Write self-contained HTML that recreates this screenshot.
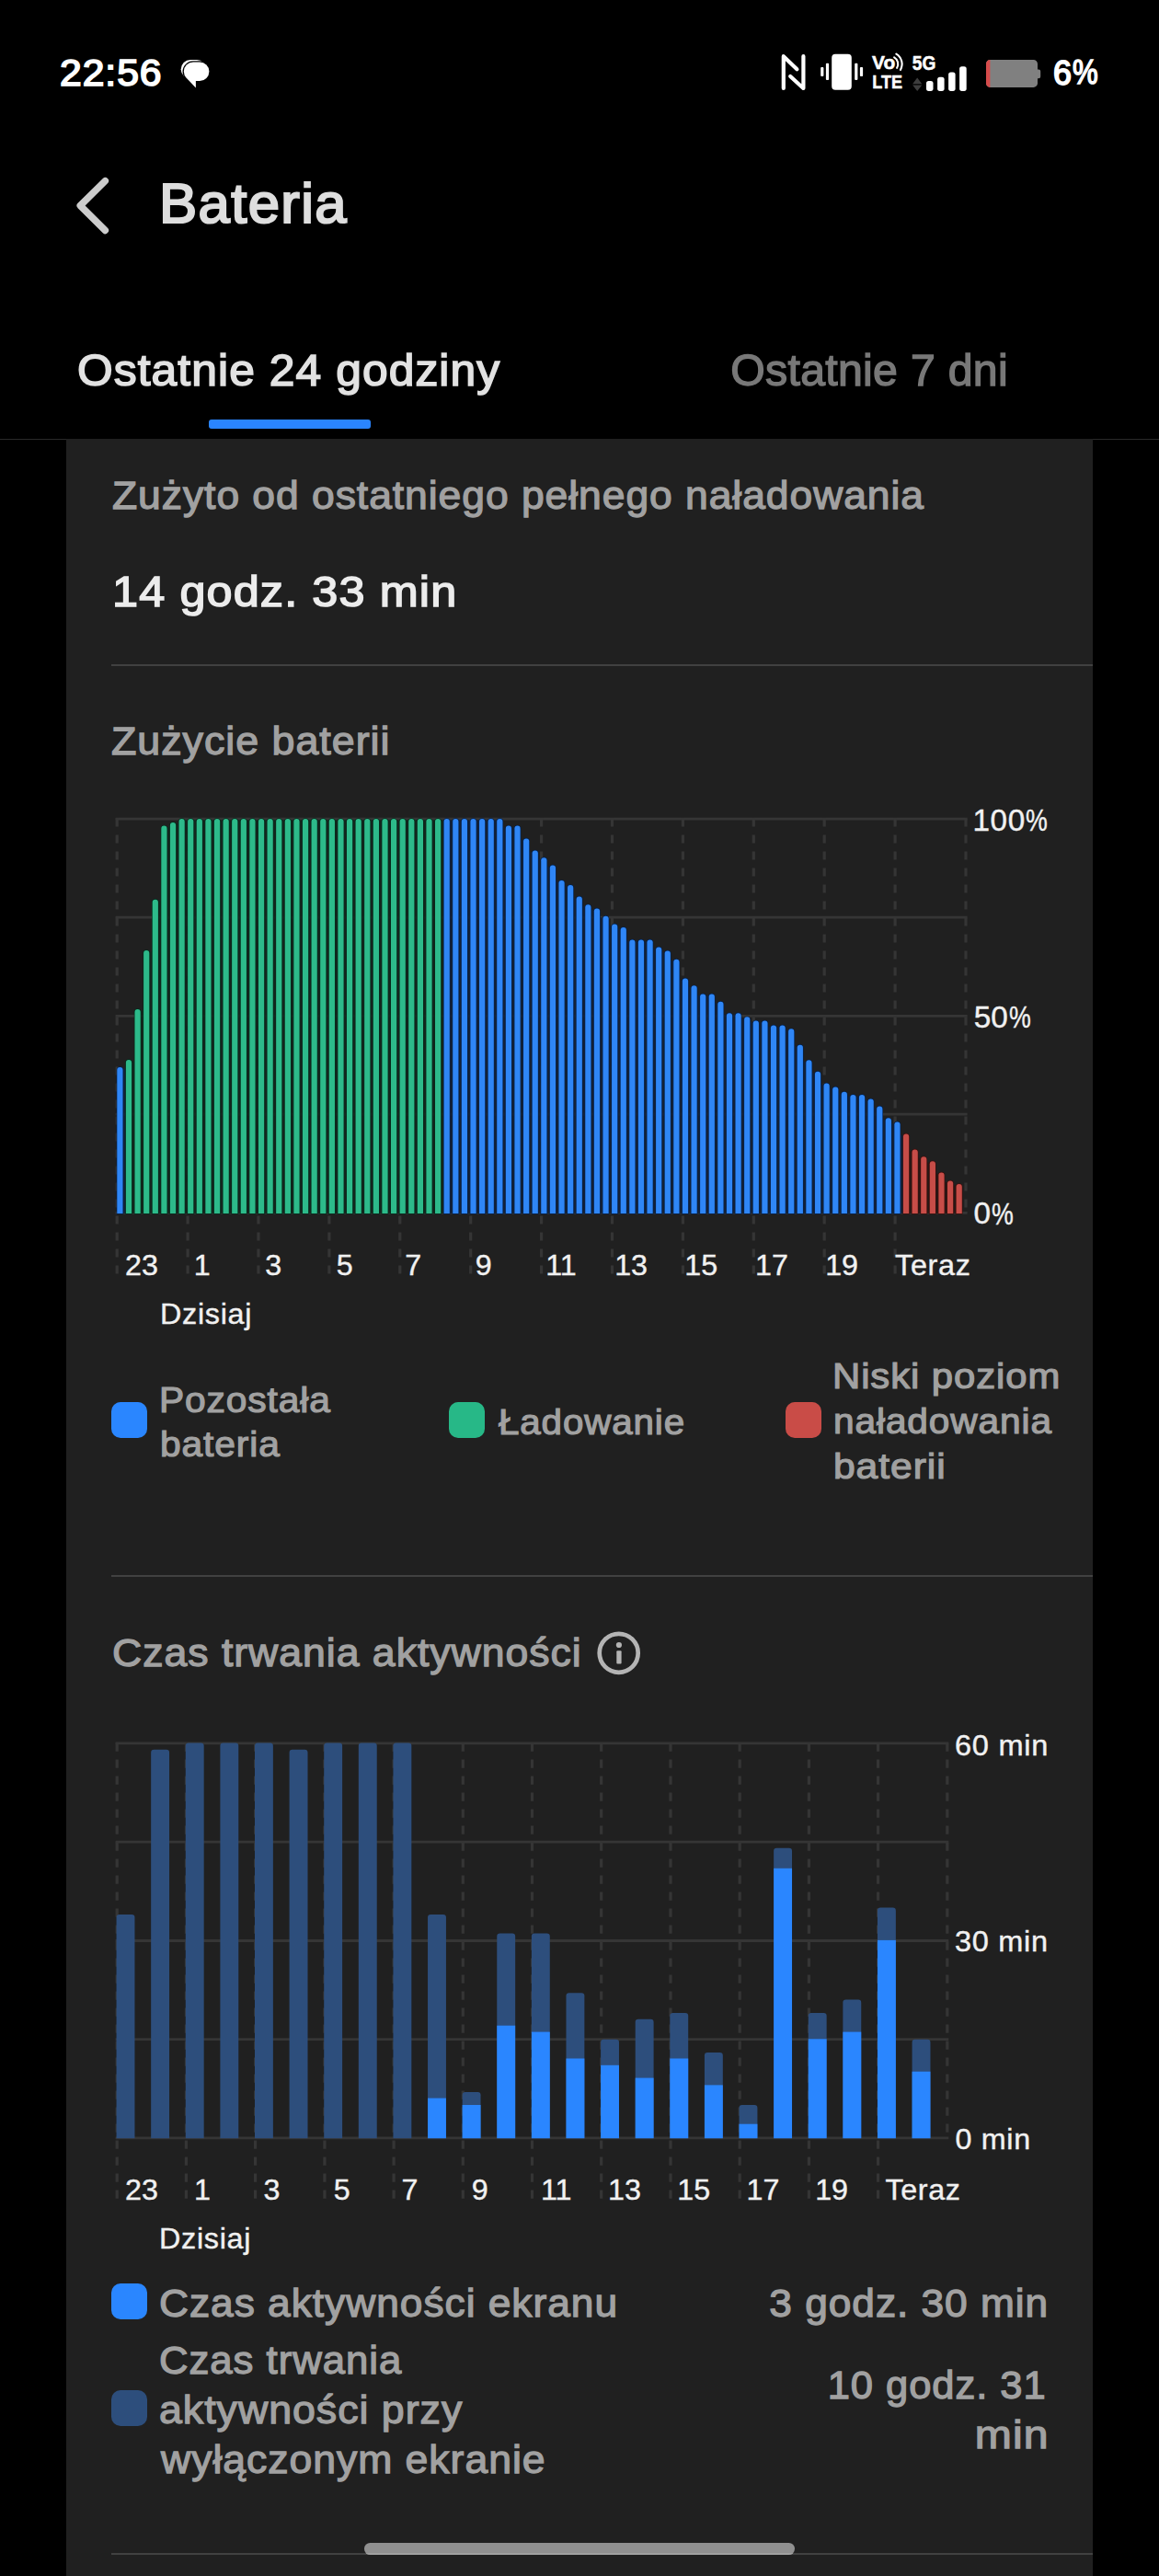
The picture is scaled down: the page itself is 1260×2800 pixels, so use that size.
<!DOCTYPE html>
<html lang="pl"><head><meta charset="utf-8"><title>Bateria</title>
<style>
html,body{margin:0;padding:0;background:#000;}
body{width:1260px;height:2800px;position:relative;overflow:hidden;font-family:"Liberation Sans", sans-serif;}
.t{position:absolute;white-space:nowrap;margin:0;padding:0;line-height:1;}
h1,header,nav,section{margin:0;padding:0;font:inherit;display:block;}
.abs{position:absolute;}
#card{position:absolute;left:72px;top:477px;width:1116px;height:2323px;background:#202020;}
.hr{position:absolute;height:2px;background:#414141;left:121px;width:1067px;}
.sq{position:absolute;width:39px;height:39.5px;border-radius:10px;}
svg{position:absolute;left:0;top:0;overflow:visible;}
</style></head><body>
<div class="abs" style="left:0;top:477px;width:1260px;height:1px;background:#2a2a2a"></div>
<div id="card"></div>
<div class="abs" style="left:227.2px;top:455.9px;width:175.7px;height:10px;border-radius:3px;background:#2a85ff"></div>
<div class="hr" style="top:722px"></div>
<div class="hr" style="top:1712px"></div>
<div class="hr" style="top:2775px"></div>
<div class="sq" style="left:121px;top:1523.7px;background:#2a86ff"></div>
<div class="sq" style="left:488.4px;top:1523.7px;background:#27b887"></div>
<div class="sq" style="left:854px;top:1523.7px;background:#c94c47"></div>
<div class="sq" style="left:121px;top:2481.7px;background:#2a86ff"></div>
<div class="sq" style="left:121px;top:2597.7px;background:#2d4e7c"></div>
<div class="abs" style="left:395.7px;top:2764.2px;width:468px;height:12.8px;border-radius:6.4px;background:rgba(255,255,255,0.5)"></div>
<svg width="1260" height="2800" viewBox="0 0 1260 2800">
<!-- chat bubble -->
<rect x="196.7" y="65" width="27.6" height="20.6" rx="10.3" fill="#fff"/>
<g fill="#000" stroke="#000" stroke-width="2.6" stroke-linejoin="round">
<rect x="199.8" y="67.6" width="27.6" height="20.5" rx="10.25"/>
<path d="M203.4 85.4 L212.9 95.3 V87.2 Z"/>
</g>
<g fill="#fff">
<rect x="199.8" y="67.6" width="27.6" height="20.5" rx="10.25"/>
<path d="M203.2 85.2 L212.9 95.4 V87.2 Z"/>
</g>
<!-- NFC -->
<g fill="none" stroke="#fff" stroke-width="4.2" stroke-linecap="round" stroke-linejoin="round">
<path d="M851.8 96 V61.2 L866.4 75.2"/>
<path d="M873.4 61.2 V96 L859.2 83"/>
</g>
<!-- vibrate -->
<g fill="#fff">
<rect x="904.2" y="58.7" width="21.6" height="39.1" rx="4"/>
<rect x="897.9" y="68.7" width="3.2" height="18.4" rx="1"/>
<rect x="892.2" y="73.1" width="3.2" height="9.9" rx="1"/>
<rect x="929.2" y="68.7" width="3.2" height="18.4" rx="1"/>
<rect x="934.9" y="73.1" width="3.2" height="9.9" rx="1"/>
</g>
<!-- VoLTE -->
<g fill="#fff" stroke="#fff" stroke-width="0.5" font-family="'Liberation Sans', sans-serif" font-weight="700">
<text x="948" y="74.7" font-size="20.6" textLength="25.2" lengthAdjust="spacingAndGlyphs">Vo</text>
<text x="948.2" y="96.1" font-size="20.8" textLength="32.8" lengthAdjust="spacingAndGlyphs">LTE</text>
<text x="991.8" y="75.5" font-size="22" textLength="25.6" lengthAdjust="spacingAndGlyphs">5G</text>
</g>
<g fill="none" stroke="#fff" stroke-width="2.1" stroke-linecap="round">
<path d="M972.1 62.4 A8.3 8.3 0 0 1 975.1 73.8"/>
<path d="M974.3 58.7 A12.6 12.6 0 0 1 978.9 75.9"/>
</g>
<!-- data arrows -->
<path d="M997.2 84.5 L1002.3 91.2 H992.1 Z M992.1 92.5 H1002.3 L997.2 99 Z" fill="#3d3d3d"/>
<!-- signal -->
<g fill="#fff">
<rect x="1007" y="87.9" width="7.5" height="11" rx="2.6"/>
<rect x="1019.1" y="83.7" width="7.5" height="15.2" rx="2.6"/>
<rect x="1031.1" y="78.5" width="7.5" height="20.4" rx="2.6"/>
<rect x="1043.1" y="72.2" width="7.6" height="26.7" rx="2.6"/>
</g>
<!-- battery -->
<path d="M1076.5 65 H1123.5 a4.5 4.5 0 0 1 4.5 4.5 V75.4 h1.2 a2 2 0 0 1 2 2 v5.8 a2 2 0 0 1 -2 2 H1128 V90.4 a4.5 4.5 0 0 1 -4.5 4.5 H1076.5 a4.5 4.5 0 0 1 -4.5 -4.5 V69.5 a4.5 4.5 0 0 1 4.5 -4.5 Z" fill="#808080"/>
<path d="M1076.4 65 a4.5 4.5 0 0 0 -4.4 4.5 V90.4 a4.5 4.5 0 0 0 4.4 4.5 Z" fill="#d64b4b"/>
<!-- back chevron -->
<path d="M114.4 196.6 L87.2 223.5 L114.4 250.5" fill="none" stroke="#cccccc" stroke-width="7.4" stroke-linecap="round" stroke-linejoin="round"/>
<!-- info -->
<g>
<circle cx="672.7" cy="1796.8" r="21" fill="none" stroke="#b4b4b4" stroke-width="4.7"/>
<circle cx="672.9" cy="1788" r="3.1" fill="#b4b4b4"/>
<rect x="670.3" y="1794.2" width="5.3" height="14.3" rx="1" fill="#b4b4b4"/>
</g>

<g stroke="#353535" stroke-width="2.8" fill="none">
<line x1="125.6" x2="1051.6" y1="890.1" y2="890.1"/>
<line x1="125.6" x2="1051.6" y1="997.2" y2="997.2"/>
<line x1="125.6" x2="1051.6" y1="1104.3" y2="1104.3"/>
<line x1="125.6" x2="1051.6" y1="1211.2" y2="1211.2"/>
<line x1="125.6" x2="1051.6" y1="1318.3" y2="1318.3"/>
</g>
<g stroke="#353535" stroke-width="3.2" stroke-dasharray="9 9" fill="none">
<line x1="127.2" x2="127.2" y1="889.5" y2="1388"/>
<line x1="204.1" x2="204.1" y1="889.5" y2="1388"/>
<line x1="281.0" x2="281.0" y1="889.5" y2="1388"/>
<line x1="357.9" x2="357.9" y1="889.5" y2="1388"/>
<line x1="434.8" x2="434.8" y1="889.5" y2="1388"/>
<line x1="511.7" x2="511.7" y1="889.5" y2="1388"/>
<line x1="588.6" x2="588.6" y1="889.5" y2="1388"/>
<line x1="665.5" x2="665.5" y1="889.5" y2="1388"/>
<line x1="742.4" x2="742.4" y1="889.5" y2="1388"/>
<line x1="819.3" x2="819.3" y1="889.5" y2="1388"/>
<line x1="896.2" x2="896.2" y1="889.5" y2="1388"/>
<line x1="973.1" x2="973.1" y1="889.5" y2="1388"/>
<line x1="1050.0" x2="1050.0" y1="889.5" y2="1319"/>
</g>
<rect x="133.20" y="1161.5" width="4.00" height="157.5" fill="#13223a" fill-opacity="0.86"/>
<rect x="142.80" y="1153.5" width="4.00" height="165.5" fill="#13261e" fill-opacity="0.86"/>
<rect x="152.41" y="1098.5" width="4.00" height="220.5" fill="#13261e" fill-opacity="0.86"/>
<rect x="162.01" y="1034.5" width="4.00" height="284.5" fill="#13261e" fill-opacity="0.86"/>
<rect x="171.61" y="979.2" width="4.00" height="339.8" fill="#13261e" fill-opacity="0.86"/>
<rect x="181.21" y="899.1" width="4.00" height="419.9" fill="#13261e" fill-opacity="0.86"/>
<rect x="190.82" y="895.5" width="4.00" height="423.5" fill="#13261e" fill-opacity="0.86"/>
<rect x="200.42" y="891.5" width="4.00" height="427.5" fill="#13261e" fill-opacity="0.86"/>
<rect x="210.02" y="891.5" width="4.00" height="427.5" fill="#13261e" fill-opacity="0.86"/>
<rect x="219.63" y="891.5" width="4.00" height="427.5" fill="#13261e" fill-opacity="0.86"/>
<rect x="229.23" y="891.5" width="4.00" height="427.5" fill="#13261e" fill-opacity="0.86"/>
<rect x="238.83" y="891.5" width="4.00" height="427.5" fill="#13261e" fill-opacity="0.86"/>
<rect x="248.44" y="891.5" width="4.00" height="427.5" fill="#13261e" fill-opacity="0.86"/>
<rect x="258.04" y="891.5" width="4.00" height="427.5" fill="#13261e" fill-opacity="0.86"/>
<rect x="267.64" y="891.5" width="4.00" height="427.5" fill="#13261e" fill-opacity="0.86"/>
<rect x="277.24" y="891.5" width="4.00" height="427.5" fill="#13261e" fill-opacity="0.86"/>
<rect x="286.85" y="891.5" width="4.00" height="427.5" fill="#13261e" fill-opacity="0.86"/>
<rect x="296.45" y="891.5" width="4.00" height="427.5" fill="#13261e" fill-opacity="0.86"/>
<rect x="306.05" y="891.5" width="4.00" height="427.5" fill="#13261e" fill-opacity="0.86"/>
<rect x="315.66" y="891.5" width="4.00" height="427.5" fill="#13261e" fill-opacity="0.86"/>
<rect x="325.26" y="891.5" width="4.00" height="427.5" fill="#13261e" fill-opacity="0.86"/>
<rect x="334.86" y="891.5" width="4.00" height="427.5" fill="#13261e" fill-opacity="0.86"/>
<rect x="344.47" y="891.5" width="4.00" height="427.5" fill="#13261e" fill-opacity="0.86"/>
<rect x="354.07" y="891.5" width="4.00" height="427.5" fill="#13261e" fill-opacity="0.86"/>
<rect x="363.67" y="891.5" width="4.00" height="427.5" fill="#13261e" fill-opacity="0.86"/>
<rect x="373.27" y="891.5" width="4.00" height="427.5" fill="#13261e" fill-opacity="0.86"/>
<rect x="382.88" y="891.5" width="4.00" height="427.5" fill="#13261e" fill-opacity="0.86"/>
<rect x="392.48" y="891.5" width="4.00" height="427.5" fill="#13261e" fill-opacity="0.86"/>
<rect x="402.08" y="891.5" width="4.00" height="427.5" fill="#13261e" fill-opacity="0.86"/>
<rect x="411.69" y="891.5" width="4.00" height="427.5" fill="#13261e" fill-opacity="0.86"/>
<rect x="421.29" y="891.5" width="4.00" height="427.5" fill="#13261e" fill-opacity="0.86"/>
<rect x="430.89" y="891.5" width="4.00" height="427.5" fill="#13261e" fill-opacity="0.86"/>
<rect x="440.50" y="891.5" width="4.00" height="427.5" fill="#13261e" fill-opacity="0.86"/>
<rect x="450.10" y="891.5" width="4.00" height="427.5" fill="#13261e" fill-opacity="0.86"/>
<rect x="459.70" y="891.5" width="4.00" height="427.5" fill="#13261e" fill-opacity="0.86"/>
<rect x="469.31" y="891.5" width="4.00" height="427.5" fill="#13261e" fill-opacity="0.86"/>
<rect x="478.91" y="891.5" width="4.00" height="427.5" fill="#13261e" fill-opacity="0.86"/>
<rect x="488.51" y="891.5" width="4.00" height="427.5" fill="#13223a" fill-opacity="0.86"/>
<rect x="498.11" y="891.5" width="4.00" height="427.5" fill="#13223a" fill-opacity="0.86"/>
<rect x="507.72" y="891.5" width="4.00" height="427.5" fill="#13223a" fill-opacity="0.86"/>
<rect x="517.32" y="891.5" width="4.00" height="427.5" fill="#13223a" fill-opacity="0.86"/>
<rect x="526.92" y="891.5" width="4.00" height="427.5" fill="#13223a" fill-opacity="0.86"/>
<rect x="536.53" y="891.5" width="4.00" height="427.5" fill="#13223a" fill-opacity="0.86"/>
<rect x="546.13" y="899.1" width="4.00" height="419.9" fill="#13223a" fill-opacity="0.86"/>
<rect x="555.73" y="899.1" width="4.00" height="419.9" fill="#13223a" fill-opacity="0.86"/>
<rect x="565.34" y="912.9" width="4.00" height="406.1" fill="#13223a" fill-opacity="0.86"/>
<rect x="574.94" y="925.9" width="4.00" height="393.1" fill="#13223a" fill-opacity="0.86"/>
<rect x="584.54" y="933.7" width="4.00" height="385.3" fill="#13223a" fill-opacity="0.86"/>
<rect x="594.14" y="941.9" width="4.00" height="377.1" fill="#13223a" fill-opacity="0.86"/>
<rect x="603.75" y="958.5" width="4.00" height="360.5" fill="#13223a" fill-opacity="0.86"/>
<rect x="613.35" y="963.5" width="4.00" height="355.5" fill="#13223a" fill-opacity="0.86"/>
<rect x="622.95" y="975.9" width="4.00" height="343.1" fill="#13223a" fill-opacity="0.86"/>
<rect x="632.56" y="984.8" width="4.00" height="334.2" fill="#13223a" fill-opacity="0.86"/>
<rect x="642.16" y="988.9" width="4.00" height="330.1" fill="#13223a" fill-opacity="0.86"/>
<rect x="651.76" y="997.2" width="4.00" height="321.8" fill="#13223a" fill-opacity="0.86"/>
<rect x="661.37" y="1006.0" width="4.00" height="313.0" fill="#13223a" fill-opacity="0.86"/>
<rect x="670.97" y="1009.5" width="4.00" height="309.5" fill="#13223a" fill-opacity="0.86"/>
<rect x="680.57" y="1022.9" width="4.00" height="296.1" fill="#13223a" fill-opacity="0.86"/>
<rect x="690.17" y="1022.9" width="4.00" height="296.1" fill="#13223a" fill-opacity="0.86"/>
<rect x="699.78" y="1022.9" width="4.00" height="296.1" fill="#13223a" fill-opacity="0.86"/>
<rect x="709.38" y="1030.9" width="4.00" height="288.1" fill="#13223a" fill-opacity="0.86"/>
<rect x="718.98" y="1035.0" width="4.00" height="284.0" fill="#13223a" fill-opacity="0.86"/>
<rect x="728.59" y="1044.2" width="4.00" height="274.8" fill="#13223a" fill-opacity="0.86"/>
<rect x="738.19" y="1065.0" width="4.00" height="254.0" fill="#13223a" fill-opacity="0.86"/>
<rect x="747.79" y="1072.8" width="4.00" height="246.2" fill="#13223a" fill-opacity="0.86"/>
<rect x="757.39" y="1081.9" width="4.00" height="237.1" fill="#13223a" fill-opacity="0.86"/>
<rect x="767.00" y="1081.9" width="4.00" height="237.1" fill="#13223a" fill-opacity="0.86"/>
<rect x="776.60" y="1090.2" width="4.00" height="228.8" fill="#13223a" fill-opacity="0.86"/>
<rect x="786.20" y="1102.7" width="4.00" height="216.3" fill="#13223a" fill-opacity="0.86"/>
<rect x="795.81" y="1102.7" width="4.00" height="216.3" fill="#13223a" fill-opacity="0.86"/>
<rect x="805.41" y="1106.8" width="4.00" height="212.2" fill="#13223a" fill-opacity="0.86"/>
<rect x="815.01" y="1110.9" width="4.00" height="208.1" fill="#13223a" fill-opacity="0.86"/>
<rect x="824.62" y="1110.9" width="4.00" height="208.1" fill="#13223a" fill-opacity="0.86"/>
<rect x="834.22" y="1115.9" width="4.00" height="203.1" fill="#13223a" fill-opacity="0.86"/>
<rect x="843.82" y="1115.9" width="4.00" height="203.1" fill="#13223a" fill-opacity="0.86"/>
<rect x="853.43" y="1119.8" width="4.00" height="199.2" fill="#13223a" fill-opacity="0.86"/>
<rect x="863.03" y="1137.2" width="4.00" height="181.8" fill="#13223a" fill-opacity="0.86"/>
<rect x="872.63" y="1153.8" width="4.00" height="165.2" fill="#13223a" fill-opacity="0.86"/>
<rect x="882.23" y="1166.2" width="4.00" height="152.8" fill="#13223a" fill-opacity="0.86"/>
<rect x="891.84" y="1178.9" width="4.00" height="140.1" fill="#13223a" fill-opacity="0.86"/>
<rect x="901.44" y="1183.0" width="4.00" height="136.0" fill="#13223a" fill-opacity="0.86"/>
<rect x="911.04" y="1188.3" width="4.00" height="130.7" fill="#13223a" fill-opacity="0.86"/>
<rect x="920.65" y="1191.5" width="4.00" height="127.5" fill="#13223a" fill-opacity="0.86"/>
<rect x="930.25" y="1191.5" width="4.00" height="127.5" fill="#13223a" fill-opacity="0.86"/>
<rect x="939.85" y="1196.0" width="4.00" height="123.0" fill="#13223a" fill-opacity="0.86"/>
<rect x="949.46" y="1204.0" width="4.00" height="115.0" fill="#13223a" fill-opacity="0.86"/>
<rect x="959.06" y="1216.7" width="4.00" height="102.3" fill="#13223a" fill-opacity="0.86"/>
<rect x="968.66" y="1220.9" width="4.00" height="98.1" fill="#13223a" fill-opacity="0.86"/>
<rect x="978.26" y="1233.9" width="4.00" height="85.1" fill="#13223a" fill-opacity="0.86"/>
<rect x="987.87" y="1251.0" width="4.00" height="68.0" fill="#2b1614" fill-opacity="0.86"/>
<rect x="997.47" y="1258.7" width="4.00" height="60.3" fill="#2b1614" fill-opacity="0.86"/>
<rect x="1007.07" y="1263.7" width="4.00" height="55.3" fill="#2b1614" fill-opacity="0.86"/>
<rect x="1016.68" y="1275.9" width="4.00" height="43.1" fill="#2b1614" fill-opacity="0.86"/>
<rect x="1026.28" y="1285.0" width="4.00" height="34.0" fill="#2b1614" fill-opacity="0.86"/>
<rect x="1035.88" y="1288.5" width="4.00" height="30.5" fill="#2b1614" fill-opacity="0.86"/>
<path d="M127.30 1319 V1163.1 a3.1 3.1 0 0 1 6.2 0 V1319 Z" fill="#2f86f6" stroke="#03204b" stroke-width="1.3" paint-order="stroke"/>
<path d="M136.90 1319 V1155.1 a3.1 3.1 0 0 1 6.2 0 V1319 Z" fill="#2dba8a" stroke="#032b1b" stroke-width="1.3" paint-order="stroke"/>
<path d="M146.51 1319 V1100.1 a3.1 3.1 0 0 1 6.2 0 V1319 Z" fill="#2dba8a" stroke="#032b1b" stroke-width="1.3" paint-order="stroke"/>
<path d="M156.11 1319 V1036.1 a3.1 3.1 0 0 1 6.2 0 V1319 Z" fill="#2dba8a" stroke="#032b1b" stroke-width="1.3" paint-order="stroke"/>
<path d="M165.71 1319 V980.8 a3.1 3.1 0 0 1 6.2 0 V1319 Z" fill="#2dba8a" stroke="#032b1b" stroke-width="1.3" paint-order="stroke"/>
<path d="M175.31 1319 V900.7 a3.1 3.1 0 0 1 6.2 0 V1319 Z" fill="#2dba8a" stroke="#032b1b" stroke-width="1.3" paint-order="stroke"/>
<path d="M184.92 1319 V897.1 a3.1 3.1 0 0 1 6.2 0 V1319 Z" fill="#2dba8a" stroke="#032b1b" stroke-width="1.3" paint-order="stroke"/>
<path d="M194.52 1319 V893.1 a3.1 3.1 0 0 1 6.2 0 V1319 Z" fill="#2dba8a" stroke="#032b1b" stroke-width="1.3" paint-order="stroke"/>
<path d="M204.12 1319 V893.1 a3.1 3.1 0 0 1 6.2 0 V1319 Z" fill="#2dba8a" stroke="#032b1b" stroke-width="1.3" paint-order="stroke"/>
<path d="M213.73 1319 V893.1 a3.1 3.1 0 0 1 6.2 0 V1319 Z" fill="#2dba8a" stroke="#032b1b" stroke-width="1.3" paint-order="stroke"/>
<path d="M223.33 1319 V893.1 a3.1 3.1 0 0 1 6.2 0 V1319 Z" fill="#2dba8a" stroke="#032b1b" stroke-width="1.3" paint-order="stroke"/>
<path d="M232.93 1319 V893.1 a3.1 3.1 0 0 1 6.2 0 V1319 Z" fill="#2dba8a" stroke="#032b1b" stroke-width="1.3" paint-order="stroke"/>
<path d="M242.54 1319 V893.1 a3.1 3.1 0 0 1 6.2 0 V1319 Z" fill="#2dba8a" stroke="#032b1b" stroke-width="1.3" paint-order="stroke"/>
<path d="M252.14 1319 V893.1 a3.1 3.1 0 0 1 6.2 0 V1319 Z" fill="#2dba8a" stroke="#032b1b" stroke-width="1.3" paint-order="stroke"/>
<path d="M261.74 1319 V893.1 a3.1 3.1 0 0 1 6.2 0 V1319 Z" fill="#2dba8a" stroke="#032b1b" stroke-width="1.3" paint-order="stroke"/>
<path d="M271.34 1319 V893.1 a3.1 3.1 0 0 1 6.2 0 V1319 Z" fill="#2dba8a" stroke="#032b1b" stroke-width="1.3" paint-order="stroke"/>
<path d="M280.95 1319 V893.1 a3.1 3.1 0 0 1 6.2 0 V1319 Z" fill="#2dba8a" stroke="#032b1b" stroke-width="1.3" paint-order="stroke"/>
<path d="M290.55 1319 V893.1 a3.1 3.1 0 0 1 6.2 0 V1319 Z" fill="#2dba8a" stroke="#032b1b" stroke-width="1.3" paint-order="stroke"/>
<path d="M300.15 1319 V893.1 a3.1 3.1 0 0 1 6.2 0 V1319 Z" fill="#2dba8a" stroke="#032b1b" stroke-width="1.3" paint-order="stroke"/>
<path d="M309.76 1319 V893.1 a3.1 3.1 0 0 1 6.2 0 V1319 Z" fill="#2dba8a" stroke="#032b1b" stroke-width="1.3" paint-order="stroke"/>
<path d="M319.36 1319 V893.1 a3.1 3.1 0 0 1 6.2 0 V1319 Z" fill="#2dba8a" stroke="#032b1b" stroke-width="1.3" paint-order="stroke"/>
<path d="M328.96 1319 V893.1 a3.1 3.1 0 0 1 6.2 0 V1319 Z" fill="#2dba8a" stroke="#032b1b" stroke-width="1.3" paint-order="stroke"/>
<path d="M338.57 1319 V893.1 a3.1 3.1 0 0 1 6.2 0 V1319 Z" fill="#2dba8a" stroke="#032b1b" stroke-width="1.3" paint-order="stroke"/>
<path d="M348.17 1319 V893.1 a3.1 3.1 0 0 1 6.2 0 V1319 Z" fill="#2dba8a" stroke="#032b1b" stroke-width="1.3" paint-order="stroke"/>
<path d="M357.77 1319 V893.1 a3.1 3.1 0 0 1 6.2 0 V1319 Z" fill="#2dba8a" stroke="#032b1b" stroke-width="1.3" paint-order="stroke"/>
<path d="M367.38 1319 V893.1 a3.1 3.1 0 0 1 6.2 0 V1319 Z" fill="#2dba8a" stroke="#032b1b" stroke-width="1.3" paint-order="stroke"/>
<path d="M376.98 1319 V893.1 a3.1 3.1 0 0 1 6.2 0 V1319 Z" fill="#2dba8a" stroke="#032b1b" stroke-width="1.3" paint-order="stroke"/>
<path d="M386.58 1319 V893.1 a3.1 3.1 0 0 1 6.2 0 V1319 Z" fill="#2dba8a" stroke="#032b1b" stroke-width="1.3" paint-order="stroke"/>
<path d="M396.18 1319 V893.1 a3.1 3.1 0 0 1 6.2 0 V1319 Z" fill="#2dba8a" stroke="#032b1b" stroke-width="1.3" paint-order="stroke"/>
<path d="M405.79 1319 V893.1 a3.1 3.1 0 0 1 6.2 0 V1319 Z" fill="#2dba8a" stroke="#032b1b" stroke-width="1.3" paint-order="stroke"/>
<path d="M415.39 1319 V893.1 a3.1 3.1 0 0 1 6.2 0 V1319 Z" fill="#2dba8a" stroke="#032b1b" stroke-width="1.3" paint-order="stroke"/>
<path d="M424.99 1319 V893.1 a3.1 3.1 0 0 1 6.2 0 V1319 Z" fill="#2dba8a" stroke="#032b1b" stroke-width="1.3" paint-order="stroke"/>
<path d="M434.60 1319 V893.1 a3.1 3.1 0 0 1 6.2 0 V1319 Z" fill="#2dba8a" stroke="#032b1b" stroke-width="1.3" paint-order="stroke"/>
<path d="M444.20 1319 V893.1 a3.1 3.1 0 0 1 6.2 0 V1319 Z" fill="#2dba8a" stroke="#032b1b" stroke-width="1.3" paint-order="stroke"/>
<path d="M453.80 1319 V893.1 a3.1 3.1 0 0 1 6.2 0 V1319 Z" fill="#2dba8a" stroke="#032b1b" stroke-width="1.3" paint-order="stroke"/>
<path d="M463.41 1319 V893.1 a3.1 3.1 0 0 1 6.2 0 V1319 Z" fill="#2dba8a" stroke="#032b1b" stroke-width="1.3" paint-order="stroke"/>
<path d="M473.01 1319 V893.1 a3.1 3.1 0 0 1 6.2 0 V1319 Z" fill="#2dba8a" stroke="#032b1b" stroke-width="1.3" paint-order="stroke"/>
<path d="M482.61 1319 V893.1 a3.1 3.1 0 0 1 6.2 0 V1319 Z" fill="#2f86f6" stroke="#03204b" stroke-width="1.3" paint-order="stroke"/>
<path d="M492.21 1319 V893.1 a3.1 3.1 0 0 1 6.2 0 V1319 Z" fill="#2f86f6" stroke="#03204b" stroke-width="1.3" paint-order="stroke"/>
<path d="M501.82 1319 V893.1 a3.1 3.1 0 0 1 6.2 0 V1319 Z" fill="#2f86f6" stroke="#03204b" stroke-width="1.3" paint-order="stroke"/>
<path d="M511.42 1319 V893.1 a3.1 3.1 0 0 1 6.2 0 V1319 Z" fill="#2f86f6" stroke="#03204b" stroke-width="1.3" paint-order="stroke"/>
<path d="M521.02 1319 V893.1 a3.1 3.1 0 0 1 6.2 0 V1319 Z" fill="#2f86f6" stroke="#03204b" stroke-width="1.3" paint-order="stroke"/>
<path d="M530.63 1319 V893.1 a3.1 3.1 0 0 1 6.2 0 V1319 Z" fill="#2f86f6" stroke="#03204b" stroke-width="1.3" paint-order="stroke"/>
<path d="M540.23 1319 V893.1 a3.1 3.1 0 0 1 6.2 0 V1319 Z" fill="#2f86f6" stroke="#03204b" stroke-width="1.3" paint-order="stroke"/>
<path d="M549.83 1319 V900.7 a3.1 3.1 0 0 1 6.2 0 V1319 Z" fill="#2f86f6" stroke="#03204b" stroke-width="1.3" paint-order="stroke"/>
<path d="M559.43 1319 V900.7 a3.1 3.1 0 0 1 6.2 0 V1319 Z" fill="#2f86f6" stroke="#03204b" stroke-width="1.3" paint-order="stroke"/>
<path d="M569.04 1319 V914.5 a3.1 3.1 0 0 1 6.2 0 V1319 Z" fill="#2f86f6" stroke="#03204b" stroke-width="1.3" paint-order="stroke"/>
<path d="M578.64 1319 V927.5 a3.1 3.1 0 0 1 6.2 0 V1319 Z" fill="#2f86f6" stroke="#03204b" stroke-width="1.3" paint-order="stroke"/>
<path d="M588.24 1319 V935.3 a3.1 3.1 0 0 1 6.2 0 V1319 Z" fill="#2f86f6" stroke="#03204b" stroke-width="1.3" paint-order="stroke"/>
<path d="M597.85 1319 V943.5 a3.1 3.1 0 0 1 6.2 0 V1319 Z" fill="#2f86f6" stroke="#03204b" stroke-width="1.3" paint-order="stroke"/>
<path d="M607.45 1319 V960.1 a3.1 3.1 0 0 1 6.2 0 V1319 Z" fill="#2f86f6" stroke="#03204b" stroke-width="1.3" paint-order="stroke"/>
<path d="M617.05 1319 V965.1 a3.1 3.1 0 0 1 6.2 0 V1319 Z" fill="#2f86f6" stroke="#03204b" stroke-width="1.3" paint-order="stroke"/>
<path d="M626.66 1319 V977.5 a3.1 3.1 0 0 1 6.2 0 V1319 Z" fill="#2f86f6" stroke="#03204b" stroke-width="1.3" paint-order="stroke"/>
<path d="M636.26 1319 V986.4 a3.1 3.1 0 0 1 6.2 0 V1319 Z" fill="#2f86f6" stroke="#03204b" stroke-width="1.3" paint-order="stroke"/>
<path d="M645.86 1319 V990.5 a3.1 3.1 0 0 1 6.2 0 V1319 Z" fill="#2f86f6" stroke="#03204b" stroke-width="1.3" paint-order="stroke"/>
<path d="M655.46 1319 V998.8 a3.1 3.1 0 0 1 6.2 0 V1319 Z" fill="#2f86f6" stroke="#03204b" stroke-width="1.3" paint-order="stroke"/>
<path d="M665.07 1319 V1007.6 a3.1 3.1 0 0 1 6.2 0 V1319 Z" fill="#2f86f6" stroke="#03204b" stroke-width="1.3" paint-order="stroke"/>
<path d="M674.67 1319 V1011.1 a3.1 3.1 0 0 1 6.2 0 V1319 Z" fill="#2f86f6" stroke="#03204b" stroke-width="1.3" paint-order="stroke"/>
<path d="M684.27 1319 V1024.5 a3.1 3.1 0 0 1 6.2 0 V1319 Z" fill="#2f86f6" stroke="#03204b" stroke-width="1.3" paint-order="stroke"/>
<path d="M693.88 1319 V1024.5 a3.1 3.1 0 0 1 6.2 0 V1319 Z" fill="#2f86f6" stroke="#03204b" stroke-width="1.3" paint-order="stroke"/>
<path d="M703.48 1319 V1024.5 a3.1 3.1 0 0 1 6.2 0 V1319 Z" fill="#2f86f6" stroke="#03204b" stroke-width="1.3" paint-order="stroke"/>
<path d="M713.08 1319 V1032.5 a3.1 3.1 0 0 1 6.2 0 V1319 Z" fill="#2f86f6" stroke="#03204b" stroke-width="1.3" paint-order="stroke"/>
<path d="M722.69 1319 V1036.6 a3.1 3.1 0 0 1 6.2 0 V1319 Z" fill="#2f86f6" stroke="#03204b" stroke-width="1.3" paint-order="stroke"/>
<path d="M732.29 1319 V1045.8 a3.1 3.1 0 0 1 6.2 0 V1319 Z" fill="#2f86f6" stroke="#03204b" stroke-width="1.3" paint-order="stroke"/>
<path d="M741.89 1319 V1066.6 a3.1 3.1 0 0 1 6.2 0 V1319 Z" fill="#2f86f6" stroke="#03204b" stroke-width="1.3" paint-order="stroke"/>
<path d="M751.49 1319 V1074.4 a3.1 3.1 0 0 1 6.2 0 V1319 Z" fill="#2f86f6" stroke="#03204b" stroke-width="1.3" paint-order="stroke"/>
<path d="M761.10 1319 V1083.5 a3.1 3.1 0 0 1 6.2 0 V1319 Z" fill="#2f86f6" stroke="#03204b" stroke-width="1.3" paint-order="stroke"/>
<path d="M770.70 1319 V1083.5 a3.1 3.1 0 0 1 6.2 0 V1319 Z" fill="#2f86f6" stroke="#03204b" stroke-width="1.3" paint-order="stroke"/>
<path d="M780.30 1319 V1091.8 a3.1 3.1 0 0 1 6.2 0 V1319 Z" fill="#2f86f6" stroke="#03204b" stroke-width="1.3" paint-order="stroke"/>
<path d="M789.91 1319 V1104.3 a3.1 3.1 0 0 1 6.2 0 V1319 Z" fill="#2f86f6" stroke="#03204b" stroke-width="1.3" paint-order="stroke"/>
<path d="M799.51 1319 V1104.3 a3.1 3.1 0 0 1 6.2 0 V1319 Z" fill="#2f86f6" stroke="#03204b" stroke-width="1.3" paint-order="stroke"/>
<path d="M809.11 1319 V1108.4 a3.1 3.1 0 0 1 6.2 0 V1319 Z" fill="#2f86f6" stroke="#03204b" stroke-width="1.3" paint-order="stroke"/>
<path d="M818.72 1319 V1112.5 a3.1 3.1 0 0 1 6.2 0 V1319 Z" fill="#2f86f6" stroke="#03204b" stroke-width="1.3" paint-order="stroke"/>
<path d="M828.32 1319 V1112.5 a3.1 3.1 0 0 1 6.2 0 V1319 Z" fill="#2f86f6" stroke="#03204b" stroke-width="1.3" paint-order="stroke"/>
<path d="M837.92 1319 V1117.5 a3.1 3.1 0 0 1 6.2 0 V1319 Z" fill="#2f86f6" stroke="#03204b" stroke-width="1.3" paint-order="stroke"/>
<path d="M847.52 1319 V1117.5 a3.1 3.1 0 0 1 6.2 0 V1319 Z" fill="#2f86f6" stroke="#03204b" stroke-width="1.3" paint-order="stroke"/>
<path d="M857.13 1319 V1121.4 a3.1 3.1 0 0 1 6.2 0 V1319 Z" fill="#2f86f6" stroke="#03204b" stroke-width="1.3" paint-order="stroke"/>
<path d="M866.73 1319 V1138.8 a3.1 3.1 0 0 1 6.2 0 V1319 Z" fill="#2f86f6" stroke="#03204b" stroke-width="1.3" paint-order="stroke"/>
<path d="M876.33 1319 V1155.4 a3.1 3.1 0 0 1 6.2 0 V1319 Z" fill="#2f86f6" stroke="#03204b" stroke-width="1.3" paint-order="stroke"/>
<path d="M885.94 1319 V1167.8 a3.1 3.1 0 0 1 6.2 0 V1319 Z" fill="#2f86f6" stroke="#03204b" stroke-width="1.3" paint-order="stroke"/>
<path d="M895.54 1319 V1180.5 a3.1 3.1 0 0 1 6.2 0 V1319 Z" fill="#2f86f6" stroke="#03204b" stroke-width="1.3" paint-order="stroke"/>
<path d="M905.14 1319 V1184.6 a3.1 3.1 0 0 1 6.2 0 V1319 Z" fill="#2f86f6" stroke="#03204b" stroke-width="1.3" paint-order="stroke"/>
<path d="M914.75 1319 V1189.9 a3.1 3.1 0 0 1 6.2 0 V1319 Z" fill="#2f86f6" stroke="#03204b" stroke-width="1.3" paint-order="stroke"/>
<path d="M924.35 1319 V1193.1 a3.1 3.1 0 0 1 6.2 0 V1319 Z" fill="#2f86f6" stroke="#03204b" stroke-width="1.3" paint-order="stroke"/>
<path d="M933.95 1319 V1193.1 a3.1 3.1 0 0 1 6.2 0 V1319 Z" fill="#2f86f6" stroke="#03204b" stroke-width="1.3" paint-order="stroke"/>
<path d="M943.55 1319 V1197.6 a3.1 3.1 0 0 1 6.2 0 V1319 Z" fill="#2f86f6" stroke="#03204b" stroke-width="1.3" paint-order="stroke"/>
<path d="M953.16 1319 V1205.6 a3.1 3.1 0 0 1 6.2 0 V1319 Z" fill="#2f86f6" stroke="#03204b" stroke-width="1.3" paint-order="stroke"/>
<path d="M962.76 1319 V1218.3 a3.1 3.1 0 0 1 6.2 0 V1319 Z" fill="#2f86f6" stroke="#03204b" stroke-width="1.3" paint-order="stroke"/>
<path d="M972.36 1319 V1222.5 a3.1 3.1 0 0 1 6.2 0 V1319 Z" fill="#2f86f6" stroke="#03204b" stroke-width="1.3" paint-order="stroke"/>
<path d="M981.97 1319 V1235.5 a3.1 3.1 0 0 1 6.2 0 V1319 Z" fill="#c74d48" stroke="#3c0f0d" stroke-width="1.3" paint-order="stroke"/>
<path d="M991.57 1319 V1252.6 a3.1 3.1 0 0 1 6.2 0 V1319 Z" fill="#c74d48" stroke="#3c0f0d" stroke-width="1.3" paint-order="stroke"/>
<path d="M1001.17 1319 V1260.3 a3.1 3.1 0 0 1 6.2 0 V1319 Z" fill="#c74d48" stroke="#3c0f0d" stroke-width="1.3" paint-order="stroke"/>
<path d="M1010.78 1319 V1265.3 a3.1 3.1 0 0 1 6.2 0 V1319 Z" fill="#c74d48" stroke="#3c0f0d" stroke-width="1.3" paint-order="stroke"/>
<path d="M1020.38 1319 V1277.5 a3.1 3.1 0 0 1 6.2 0 V1319 Z" fill="#c74d48" stroke="#3c0f0d" stroke-width="1.3" paint-order="stroke"/>
<path d="M1029.98 1319 V1286.6 a3.1 3.1 0 0 1 6.2 0 V1319 Z" fill="#c74d48" stroke="#3c0f0d" stroke-width="1.3" paint-order="stroke"/>
<path d="M1039.59 1319 V1290.1 a3.1 3.1 0 0 1 6.2 0 V1319 Z" fill="#c74d48" stroke="#3c0f0d" stroke-width="1.3" paint-order="stroke"/>
<g stroke="#353535" stroke-width="2.8" fill="none">
<line x1="125.6" x2="1031.3" y1="1894.9" y2="1894.9"/>
<line x1="125.6" x2="1031.3" y1="2002.2" y2="2002.2"/>
<line x1="125.6" x2="1031.3" y1="2109.5" y2="2109.5"/>
<line x1="125.6" x2="1031.3" y1="2216.7" y2="2216.7"/>
<line x1="125.6" x2="1031.3" y1="2323.9" y2="2323.9"/>
</g>
<g stroke="#353535" stroke-width="3.2" stroke-dasharray="9.2 8.8" fill="none">
<line x1="127.2" x2="127.2" y1="1894.6" y2="2393"/>
<line x1="202.4" x2="202.4" y1="1894.6" y2="2393"/>
<line x1="277.6" x2="277.6" y1="1894.6" y2="2393"/>
<line x1="352.9" x2="352.9" y1="1894.6" y2="2393"/>
<line x1="428.1" x2="428.1" y1="1894.6" y2="2393"/>
<line x1="503.3" x2="503.3" y1="1894.6" y2="2393"/>
<line x1="578.5" x2="578.5" y1="1894.6" y2="2393"/>
<line x1="653.7" x2="653.7" y1="1894.6" y2="2393"/>
<line x1="729.0" x2="729.0" y1="1894.6" y2="2393"/>
<line x1="804.2" x2="804.2" y1="1894.6" y2="2393"/>
<line x1="879.4" x2="879.4" y1="1894.6" y2="2393"/>
<line x1="954.6" x2="954.6" y1="1894.6" y2="2393"/>
<line x1="1029.8" x2="1029.8" y1="1894.6" y2="2324.5"/>
</g>
<path d="M126.55 2324.2 V2084.1 a3.2 3.2 0 0 1 3.2 -3.2 h13.5 a3.2 3.2 0 0 1 3.2 3.2 V2324.2 Z" fill="#2d4e7c"/>
<path d="M164.16 2324.2 V1905.0 a3.2 3.2 0 0 1 3.2 -3.2 h13.5 a3.2 3.2 0 0 1 3.2 3.2 V2324.2 Z" fill="#2d4e7c"/>
<path d="M201.77 2324.2 V1897.7 a3.2 3.2 0 0 1 3.2 -3.2 h13.5 a3.2 3.2 0 0 1 3.2 3.2 V2324.2 Z" fill="#2d4e7c"/>
<path d="M239.38 2324.2 V1897.7 a3.2 3.2 0 0 1 3.2 -3.2 h13.5 a3.2 3.2 0 0 1 3.2 3.2 V2324.2 Z" fill="#2d4e7c"/>
<path d="M276.99 2324.2 V1897.7 a3.2 3.2 0 0 1 3.2 -3.2 h13.5 a3.2 3.2 0 0 1 3.2 3.2 V2324.2 Z" fill="#2d4e7c"/>
<path d="M314.60 2324.2 V1905.0 a3.2 3.2 0 0 1 3.2 -3.2 h13.5 a3.2 3.2 0 0 1 3.2 3.2 V2324.2 Z" fill="#2d4e7c"/>
<path d="M352.21 2324.2 V1897.7 a3.2 3.2 0 0 1 3.2 -3.2 h13.5 a3.2 3.2 0 0 1 3.2 3.2 V2324.2 Z" fill="#2d4e7c"/>
<path d="M389.82 2324.2 V1897.7 a3.2 3.2 0 0 1 3.2 -3.2 h13.5 a3.2 3.2 0 0 1 3.2 3.2 V2324.2 Z" fill="#2d4e7c"/>
<path d="M427.43 2324.2 V1897.7 a3.2 3.2 0 0 1 3.2 -3.2 h13.5 a3.2 3.2 0 0 1 3.2 3.2 V2324.2 Z" fill="#2d4e7c"/>
<path d="M465.04 2324.2 V2084.1 a3.2 3.2 0 0 1 3.2 -3.2 h13.5 a3.2 3.2 0 0 1 3.2 3.2 V2324.2 Z" fill="#2d4e7c"/>
<rect x="465.04" y="2280.6" width="19.9" height="43.6" fill="#2a86ff"/>
<path d="M502.65 2324.2 V2277.2 a3.2 3.2 0 0 1 3.2 -3.2 h13.5 a3.2 3.2 0 0 1 3.2 3.2 V2324.2 Z" fill="#2d4e7c"/>
<rect x="502.65" y="2288.0" width="19.9" height="36.2" fill="#2a86ff"/>
<path d="M540.26 2324.2 V2104.8 a3.2 3.2 0 0 1 3.2 -3.2 h13.5 a3.2 3.2 0 0 1 3.2 3.2 V2324.2 Z" fill="#2d4e7c"/>
<rect x="540.26" y="2201.7" width="19.9" height="122.5" fill="#2a86ff"/>
<path d="M577.87 2324.2 V2104.8 a3.2 3.2 0 0 1 3.2 -3.2 h13.5 a3.2 3.2 0 0 1 3.2 3.2 V2324.2 Z" fill="#2d4e7c"/>
<rect x="577.87" y="2208.6" width="19.9" height="115.6" fill="#2a86ff"/>
<path d="M615.48 2324.2 V2169.5 a3.2 3.2 0 0 1 3.2 -3.2 h13.5 a3.2 3.2 0 0 1 3.2 3.2 V2324.2 Z" fill="#2d4e7c"/>
<rect x="615.48" y="2237.5" width="19.9" height="86.7" fill="#2a86ff"/>
<path d="M653.09 2324.2 V2220.0 a3.2 3.2 0 0 1 3.2 -3.2 h13.5 a3.2 3.2 0 0 1 3.2 3.2 V2324.2 Z" fill="#2d4e7c"/>
<rect x="653.09" y="2244.8" width="19.9" height="79.4" fill="#2a86ff"/>
<path d="M690.70 2324.2 V2198.0 a3.2 3.2 0 0 1 3.2 -3.2 h13.5 a3.2 3.2 0 0 1 3.2 3.2 V2324.2 Z" fill="#2d4e7c"/>
<rect x="690.70" y="2258.6" width="19.9" height="65.6" fill="#2a86ff"/>
<path d="M728.31 2324.2 V2191.1 a3.2 3.2 0 0 1 3.2 -3.2 h13.5 a3.2 3.2 0 0 1 3.2 3.2 V2324.2 Z" fill="#2d4e7c"/>
<rect x="728.31" y="2237.5" width="19.9" height="86.7" fill="#2a86ff"/>
<path d="M765.92 2324.2 V2234.2 a3.2 3.2 0 0 1 3.2 -3.2 h13.5 a3.2 3.2 0 0 1 3.2 3.2 V2324.2 Z" fill="#2d4e7c"/>
<rect x="765.92" y="2266.4" width="19.9" height="57.8" fill="#2a86ff"/>
<path d="M803.53 2324.2 V2291.2 a3.2 3.2 0 0 1 3.2 -3.2 h13.5 a3.2 3.2 0 0 1 3.2 3.2 V2324.2 Z" fill="#2d4e7c"/>
<rect x="803.53" y="2308.7" width="19.9" height="15.5" fill="#2a86ff"/>
<path d="M841.14 2324.2 V2012.0 a3.2 3.2 0 0 1 3.2 -3.2 h13.5 a3.2 3.2 0 0 1 3.2 3.2 V2324.2 Z" fill="#2d4e7c"/>
<rect x="841.14" y="2030.8" width="19.9" height="293.4" fill="#2a86ff"/>
<path d="M878.75 2324.2 V2191.1 a3.2 3.2 0 0 1 3.2 -3.2 h13.5 a3.2 3.2 0 0 1 3.2 3.2 V2324.2 Z" fill="#2d4e7c"/>
<rect x="878.75" y="2216.3" width="19.9" height="107.9" fill="#2a86ff"/>
<path d="M916.36 2324.2 V2176.8 a3.2 3.2 0 0 1 3.2 -3.2 h13.5 a3.2 3.2 0 0 1 3.2 3.2 V2324.2 Z" fill="#2d4e7c"/>
<rect x="916.36" y="2208.6" width="19.9" height="115.6" fill="#2a86ff"/>
<path d="M953.97 2324.2 V2076.7 a3.2 3.2 0 0 1 3.2 -3.2 h13.5 a3.2 3.2 0 0 1 3.2 3.2 V2324.2 Z" fill="#2d4e7c"/>
<rect x="953.97" y="2108.9" width="19.9" height="215.3" fill="#2a86ff"/>
<path d="M991.58 2324.2 V2220.0 a3.2 3.2 0 0 1 3.2 -3.2 h13.5 a3.2 3.2 0 0 1 3.2 3.2 V2324.2 Z" fill="#2d4e7c"/>
<rect x="991.58" y="2251.7" width="19.9" height="72.5" fill="#2a86ff"/>
</svg>
<header aria-label="Pasek stanu">
<div class="t" style="font-size:40.84px;color:#ffffff;top:58.98px;left:65.11px;transform-origin:0 0;transform:scaleX(1.0450);letter-spacing:0.898px;-webkit-text-stroke:1.7px #ffffff;">22:56</div>
<div class="t" style="font-size:36.59px;color:#ffffff;top:61.53px;left:1144.69px;transform-origin:0 0;transform:scaleX(0.9792);-webkit-text-stroke:1.8px #ffffff;">6</div>
<div class="t" style="font-size:36.88px;color:#ffffff;top:61.38px;left:1166.49px;transform-origin:0 0;transform:scaleX(0.8437);-webkit-text-stroke:1.6px #ffffff;">%</div>
</header>
<h1>
<div class="t" style="font-size:61.46px;color:#dedede;top:189.97px;left:172.64px;transform-origin:0 0;transform:scaleX(1.0039);letter-spacing:1.352px;-webkit-text-stroke:2.2px #dedede;">Bateria</div>
</h1>
<nav aria-label="Zakres">
<div class="t" style="font-size:47.96px;color:#e2e2e2;top:378.60px;left:83.75px;transform-origin:0 0;transform:scaleX(1.0367);letter-spacing:1.055px;-webkit-text-stroke:1.6px #e2e2e2;">Ostatnie 24 godziny</div>
<div class="t" style="font-size:48.25px;color:#787878;top:378.46px;left:794.22px;letter-spacing:0.285px;-webkit-text-stroke:1.4px #787878;">Ostatnie 7 dni</div>
</nav>
<section aria-label="Podsumowanie">
<div class="t" style="font-size:43.27px;color:#a1a1a1;top:517.42px;left:121.65px;transform-origin:0 0;transform:scaleX(1.0259);letter-spacing:0.952px;-webkit-text-stroke:1.3px #a1a1a1;">Zużyto od ostatniego pełnego naładowania</div>
<div class="t" style="font-size:47.08px;color:#ececec;top:619.30px;left:121.72px;transform-origin:0 0;transform:scaleX(1.0707);letter-spacing:1.036px;-webkit-text-stroke:1.5px #ececec;">14 godz. 33 min</div>
</section>
<section aria-label="Zużycie baterii">
<div class="t" style="font-size:43.27px;color:#a1a1a1;top:784.12px;left:120.94px;transform-origin:0 0;transform:scaleX(1.0348);letter-spacing:0.952px;-webkit-text-stroke:1.3px #a1a1a1;">Zużycie baterii</div>
<div class="t" style="font-size:32.25px;color:#f1f1f1;top:1359.30px;left:136.09px;-webkit-text-stroke:0.4px #f1f1f1;">23</div>
<div class="t" style="font-size:32.25px;color:#f1f1f1;top:1359.30px;left:210.76px;-webkit-text-stroke:0.4px #f1f1f1;">1</div>
<div class="t" style="font-size:32.25px;color:#f1f1f1;top:1359.30px;left:288.31px;-webkit-text-stroke:0.4px #f1f1f1;">3</div>
<div class="t" style="font-size:32.25px;color:#f1f1f1;top:1359.30px;left:365.66px;-webkit-text-stroke:0.4px #f1f1f1;">5</div>
<div class="t" style="font-size:32.25px;color:#f1f1f1;top:1359.30px;left:440.16px;-webkit-text-stroke:0.4px #f1f1f1;">7</div>
<div class="t" style="font-size:32.25px;color:#f1f1f1;top:1359.30px;left:516.78px;-webkit-text-stroke:0.4px #f1f1f1;">9</div>
<div class="t" style="font-size:32.25px;color:#f1f1f1;top:1359.30px;left:593.16px;-webkit-text-stroke:0.4px #f1f1f1;">11</div>
<div class="t" style="font-size:32.25px;color:#f1f1f1;top:1359.30px;left:668.16px;-webkit-text-stroke:0.4px #f1f1f1;">13</div>
<div class="t" style="font-size:32.25px;color:#f1f1f1;top:1359.30px;left:744.26px;-webkit-text-stroke:0.4px #f1f1f1;">15</div>
<div class="t" style="font-size:32.25px;color:#f1f1f1;top:1359.30px;left:820.96px;-webkit-text-stroke:0.4px #f1f1f1;">17</div>
<div class="t" style="font-size:32.25px;color:#f1f1f1;top:1359.30px;left:897.16px;-webkit-text-stroke:0.4px #f1f1f1;">19</div>
<div class="t" style="font-size:32.25px;color:#f1f1f1;top:1359.30px;left:973.29px;transform-origin:0 0;transform:scaleX(1.0037);letter-spacing:0.709px;-webkit-text-stroke:0.4px #f1f1f1;">Teraz</div>
<div class="t" style="font-size:32.25px;color:#f1f1f1;top:1411.90px;left:173.77px;transform-origin:0 0;transform:scaleX(1.0016);letter-spacing:0.709px;-webkit-text-stroke:0.4px #f1f1f1;">Dzisiaj</div>
<div class="t" style="font-size:33.28px;color:#f1f1f1;top:874.53px;left:1057.57px;letter-spacing:0.561px;-webkit-text-stroke:0.4px #f1f1f1;">100</div>
<div class="t" style="font-size:33.28px;color:#f1f1f1;top:874.53px;left:1115.15px;transform-origin:0 0;transform:scaleX(0.8034);-webkit-text-stroke:0.4px #f1f1f1;">%</div>
<div class="t" style="font-size:33.28px;color:#f1f1f1;top:1088.53px;left:1058.81px;-webkit-text-stroke:0.4px #f1f1f1;">50</div>
<div class="t" style="font-size:33.28px;color:#f1f1f1;top:1088.53px;left:1096.75px;transform-origin:0 0;transform:scaleX(0.8034);-webkit-text-stroke:0.4px #f1f1f1;">%</div>
<div class="t" style="font-size:33.28px;color:#f1f1f1;top:1302.43px;left:1058.50px;-webkit-text-stroke:0.4px #f1f1f1;">0</div>
<div class="t" style="font-size:33.28px;color:#f1f1f1;top:1302.53px;left:1078.45px;transform-origin:0 0;transform:scaleX(0.8034);-webkit-text-stroke:0.4px #f1f1f1;">%</div>
<div class="t" style="font-size:38.79px;color:#a1a1a1;top:1502.76px;left:173.48px;transform-origin:0 0;transform:scaleX(1.0494);letter-spacing:0.853px;-webkit-text-stroke:1.2px #a1a1a1;">Pozostała</div>
<div class="t" style="font-size:38.79px;color:#a1a1a1;top:1550.96px;left:174.17px;transform-origin:0 0;transform:scaleX(1.0502);letter-spacing:0.853px;-webkit-text-stroke:1.2px #a1a1a1;">bateria</div>
<div class="t" style="font-size:38.79px;color:#a1a1a1;top:1526.86px;left:541.92px;transform-origin:0 0;transform:scaleX(1.0396);letter-spacing:0.853px;-webkit-text-stroke:1.2px #a1a1a1;">Ładowanie</div>
<div class="t" style="font-size:38.79px;color:#a1a1a1;top:1476.86px;left:905.48px;transform-origin:0 0;transform:scaleX(1.0789);letter-spacing:0.853px;-webkit-text-stroke:1.2px #a1a1a1;">Niski poziom</div>
<div class="t" style="font-size:38.79px;color:#a1a1a1;top:1525.96px;left:906.20px;transform-origin:0 0;transform:scaleX(1.0473);letter-spacing:0.853px;-webkit-text-stroke:1.2px #a1a1a1;">naładowania</div>
<div class="t" style="font-size:38.79px;color:#a1a1a1;top:1575.06px;left:906.15px;transform-origin:0 0;transform:scaleX(1.0982);letter-spacing:0.853px;-webkit-text-stroke:1.2px #a1a1a1;">baterii</div>
</section>
<section aria-label="Czas trwania aktywności">
<div class="t" style="font-size:43.27px;color:#a1a1a1;top:1774.52px;left:121.59px;transform-origin:0 0;transform:scaleX(1.0306);letter-spacing:0.952px;-webkit-text-stroke:1.3px #a1a1a1;">Czas trwania aktywności</div>
<div class="t" style="font-size:32.25px;color:#f1f1f1;top:2364.30px;left:136.09px;-webkit-text-stroke:0.4px #f1f1f1;">23</div>
<div class="t" style="font-size:32.25px;color:#f1f1f1;top:2364.30px;left:210.96px;-webkit-text-stroke:0.4px #f1f1f1;">1</div>
<div class="t" style="font-size:32.25px;color:#f1f1f1;top:2364.30px;left:286.61px;-webkit-text-stroke:0.4px #f1f1f1;">3</div>
<div class="t" style="font-size:32.25px;color:#f1f1f1;top:2364.30px;left:362.86px;-webkit-text-stroke:0.4px #f1f1f1;">5</div>
<div class="t" style="font-size:32.25px;color:#f1f1f1;top:2364.30px;left:436.56px;-webkit-text-stroke:0.4px #f1f1f1;">7</div>
<div class="t" style="font-size:32.25px;color:#f1f1f1;top:2364.30px;left:512.68px;-webkit-text-stroke:0.4px #f1f1f1;">9</div>
<div class="t" style="font-size:32.25px;color:#f1f1f1;top:2364.30px;left:588.06px;-webkit-text-stroke:0.4px #f1f1f1;">11</div>
<div class="t" style="font-size:32.25px;color:#f1f1f1;top:2364.30px;left:660.96px;-webkit-text-stroke:0.4px #f1f1f1;">13</div>
<div class="t" style="font-size:32.25px;color:#f1f1f1;top:2364.30px;left:736.22px;-webkit-text-stroke:0.4px #f1f1f1;">15</div>
<div class="t" style="font-size:32.25px;color:#f1f1f1;top:2364.30px;left:811.56px;-webkit-text-stroke:0.4px #f1f1f1;">17</div>
<div class="t" style="font-size:32.25px;color:#f1f1f1;top:2364.30px;left:886.16px;-webkit-text-stroke:0.4px #f1f1f1;">19</div>
<div class="t" style="font-size:32.25px;color:#f1f1f1;top:2364.30px;left:962.49px;letter-spacing:0.633px;-webkit-text-stroke:0.4px #f1f1f1;">Teraz</div>
<div class="t" style="font-size:32.25px;color:#f1f1f1;top:2417.20px;left:173.17px;transform-origin:0 0;transform:scaleX(1.0016);letter-spacing:0.709px;-webkit-text-stroke:0.4px #f1f1f1;">Dzisiaj</div>
<div class="t" style="font-size:32.25px;color:#f1f1f1;top:1880.50px;left:1037.86px;transform-origin:0 0;transform:scaleX(1.0099);letter-spacing:0.709px;-webkit-text-stroke:0.4px #f1f1f1;">60 min</div>
<div class="t" style="font-size:32.25px;color:#f1f1f1;top:2094.40px;left:1038.21px;transform-origin:0 0;transform:scaleX(1.0064);letter-spacing:0.709px;-webkit-text-stroke:0.4px #f1f1f1;">30 min</div>
<div class="t" style="font-size:32.25px;color:#f1f1f1;top:2308.90px;left:1038.44px;letter-spacing:0.693px;-webkit-text-stroke:0.4px #f1f1f1;">0 min</div>
<div class="t" style="font-size:43.27px;color:#a1a1a1;top:2481.72px;left:172.91px;transform-origin:0 0;transform:scaleX(1.0238);letter-spacing:0.952px;-webkit-text-stroke:1.3px #a1a1a1;">Czas aktywności ekranu</div>
<div class="t" style="font-size:43.27px;color:#a1a1a1;top:2544.22px;left:172.94px;transform-origin:0 0;transform:scaleX(1.0102);letter-spacing:0.952px;-webkit-text-stroke:1.3px #a1a1a1;">Czas trwania</div>
<div class="t" style="font-size:43.27px;color:#a1a1a1;top:2598.32px;left:173.26px;transform-origin:0 0;transform:scaleX(1.0331);letter-spacing:0.952px;-webkit-text-stroke:1.3px #a1a1a1;">aktywności przy</div>
<div class="t" style="font-size:43.27px;color:#a1a1a1;top:2651.92px;left:175.14px;transform-origin:0 0;transform:scaleX(1.0291);letter-spacing:0.952px;-webkit-text-stroke:1.3px #a1a1a1;">wyłączonym ekranie</div>
<div class="t" style="font-size:43.27px;color:#a1a1a1;top:2482.22px;right:119.91px;transform-origin:100% 0;transform:scaleX(1.0223);letter-spacing:0.952px;-webkit-text-stroke:1.3px #a1a1a1;">3 godz. 30 min</div>
<div class="t" style="font-size:43.27px;color:#a1a1a1;top:2571.22px;right:122.77px;transform-origin:100% 0;transform:scaleX(1.0054);letter-spacing:0.952px;-webkit-text-stroke:1.3px #a1a1a1;">10 godz. 31</div>
<div class="t" style="font-size:43.27px;color:#a1a1a1;top:2625.12px;right:119.55px;transform-origin:100% 0;transform:scaleX(1.1120);letter-spacing:0.952px;-webkit-text-stroke:1.3px #a1a1a1;">min</div>
</section>
</body></html>
